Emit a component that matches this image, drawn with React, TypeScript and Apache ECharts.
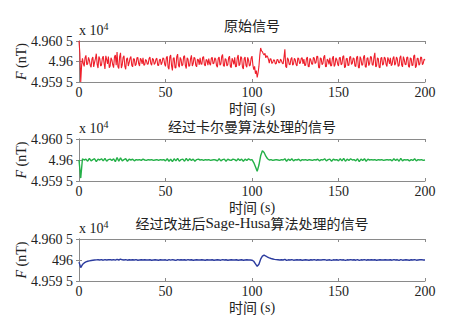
import React, { useEffect, useRef } from "react";
import * as echarts from "echarts";

// Offsets from the base value (nT)
const BASE = 49600;
const RAW_STEP = 0.5; // s between samples of the raw signal
const FILTER_STEP = 1; // s between samples of the filtered signals

const titles = [
  [{ t: "原始信号", latin: false }],
  [{ t: "经过卡尔曼算法处理的信号", latin: false }],
  [
    { t: "经过改进后", latin: false },
    { t: "Sage-Husa", latin: true },
    { t: "算法处理的信号", latin: false },
  ],
];
const xTicks = [0, 50, 100, 150, 200];
const yTickLabels = [
  { top: "4.960 5", mid: "4.96", bottom: "4.959 5" },
  { top: "4.960 5", mid: "4.96", bottom: "4.959 5" },
  { top: "4.960 5", mid: "496", bottom: "4.959 5" },
];

const rawSignal = [
  5.0, 2.0, -5.0, -1.0, 0.8, -0.5, -1.2, 0.9, 1.5, -0.8, -0.6, 1.0, 0.3, -0.9, -1.4, 0.6, 1.1, -1.3, -0.2, 0.7,
  1.9, -0.7, -1.6, 1.2, 0.7, -1.1, -0.9, 0.8, 1.3, -0.4, -1.8, 1.4, 0.5, -0.6, 1.2, -1.5, -1.1, 0.9, 0.4, -0.8,
  -1.5, 1.1, 1.6, -0.9, 2.3, -1.3, -1.7, 1.2, 2.1, -1.6, -0.8, 1.0, 1.4, -1.2, -1.9, 0.6, 0.9, -1.1, -0.3, 0.8,
  1.2, -0.9, -1.3, 0.7, 0.6, -1.0, -0.7, 0.9, 1.0, -0.5, -1.1, 0.8, 0.4, -0.6, 0.9, -0.9, -0.8, 0.5, 0.2, -0.7,
  -0.6, 0.7, 1.1, -0.5, -0.9, 0.8, 0.5, -0.7, -0.4, 0.6, 0.8, -0.9, -1.0, 0.4, 0.6, -0.8, -0.3, 0.9, 0.7, -0.6,
  -1.2, 0.9, 1.3, -1.4, -1.9, 1.1, 1.6, -1.0, -2.2, 0.8, 0.9, -1.5, -1.6, 1.2, 1.8, -0.9, -1.4, 1.0, 0.5, -1.1,
  -0.8, 1.2, 1.4, -1.0, -1.7, 0.9, 0.6, -1.2, -1.0, 0.7, 1.5, -1.1, -0.5, 1.0, 0.8, -0.9, -1.3, 0.6, 0.4, -0.8,
  0.9, -0.6, -0.7, 1.0, 1.2, -0.8, -1.1, 0.5, 0.3, -0.9, 0.7, -0.5, -0.9, 0.8, 1.0, -0.6, -0.4, 0.9, 0.6, -1.0,
  -1.4, 0.8, 1.1, -0.9, -0.6, 1.2, 1.7, -1.0, -1.2, 0.7, 0.5, -1.1, -0.8, 0.9, 1.3, -1.2, -1.5, 0.8, 0.2, -0.7,
  1.0, -1.3, -1.2, 0.9, 1.6, -1.0, -0.7, 1.2, 0.9, -1.4, -1.8, 0.7, 1.1, -0.9, -1.4, 1.0, 0.4, -1.1, -0.9, 0.8,
  1.3, -0.8, -2.0, -1.2, -3.0, -2.2, -3.9, -2.8, -1.2, 1.5, 3.3, 2.6, 2.4, 1.9, 1.6, 2.0, 0.9, 1.4, 1.2, 0.5,
  -0.4, 0.7, 0.6, -0.5, -0.2, 0.4, 0.3, -0.6, -0.5, 0.5, 0.4, -0.3, -0.3, 0.6, 0.2, -0.4, -0.6, 1.0, 3.0, -1.2,
  -1.5, 0.9, 0.5, -0.7, -0.8, 0.6, 1.0, -0.9, -0.6, 0.8, 0.4, -0.7, -1.1, 0.9, 0.7, -0.5, -0.3, 0.8, 0.9, -0.6,
  0.6, -1.0, -0.9, 0.7, 1.1, -1.2, -1.3, 0.8, 0.4, -0.6, -0.7, 1.0, 0.8, -0.5, -0.2, 1.3, 1.2, -1.4, -1.6, 0.9,
  0.7, -0.8, -0.5, 1.1, 1.5, -1.3, -1.2, 0.6, 0.3, -0.7, 0.9, -1.1, -1.0, 0.8, 1.3, -1.2, -0.8, 0.9, 0.5, -0.6,
  -1.1, 0.9, 1.0, -0.8, -0.6, 1.2, 1.4, -1.5, -1.3, 0.7, 0.8, -1.0, -0.9, 1.1, 1.2, -0.7, -0.4, 0.9, 0.7, -1.1,
  -1.2, 1.0, 1.3, -1.4, -1.6, 1.2, 0.6, -0.9, -0.8, 1.1, 1.5, -1.3, -1.4, 0.8, 0.9, -1.0, -0.5, 1.2, 1.1, -0.8,
  -0.9, 1.0, 2.1, -1.3, -1.1, 0.9, 0.7, -1.4, -1.5, 0.8, 1.0, -0.9, -0.6, 1.1, 0.8, -0.7, -1.2, 1.0, 0.4, -0.6,
  0.9, -1.0, -0.7, 0.8, 1.2, -0.9, -0.5, 1.1, 0.6, -1.2, -1.0, 0.9, 1.4, -0.8, -1.3, 1.2, 0.5, -0.7, -0.8, 1.0,
  1.1, -1.2, -1.4, 0.9, 0.7, -1.0, -0.9, 1.3, 1.6, -1.5, -1.1, 0.8, 0.8, -0.9, -0.6, 1.1, 1.0, -0.8, -0.4, 0.6,
  0.3,
];

const kalmanSignal = [
  0.0, -4.3, 0.3, 0.0, 0.2, -0.3, 0.4, -0.2, 0.1, 0.3,
  -0.4, 0.2, 0.0, 0.3, -0.2, 0.4, -0.3, 0.1, 0.2, -0.1,
  0.3, -0.4, 0.6, -0.3, 0.5, -0.2, 0.1, 0.3, -0.3, 0.2,
  0.0, 0.2, -0.2, 0.1, 0.0, 0.1, -0.1, 0.2, 0.0, -0.1,
  0.1, 0.0, 0.1, -0.1, 0.0, 0.1, -0.1, 0.1, 0.0, 0.1,
  -0.2, 0.3, -0.3, 0.2, -0.4, 0.3, -0.2, 0.4, -0.3, 0.1,
  0.2, -0.3, 0.4, -0.2, 0.3, -0.1, 0.2, -0.3, 0.1, 0.2,
  0.0, 0.1, -0.1, 0.1, 0.0, 0.1, -0.1, 0.0, 0.1, 0.0,
  -0.2, 0.3, -0.2, 0.1, 0.2, -0.3, 0.2, 0.0, -0.1, 0.2,
  0.1, -0.2, 0.3, -0.1, 0.2, -0.3, 0.2, -0.1, 0.3, 0.0,
  0.1, -0.6, -1.6, -2.7, -1.2, 1.0, 2.2, 1.8, 0.9, 0.3,
  0.0, 0.1, -0.1, 0.0, 0.1, 0.0, -0.1, 0.1, 0.0, 0.3,
  -0.3, 0.2, -0.1, 0.3, -0.2, 0.1, 0.0, 0.2, -0.2, 0.1,
  0.0, 0.1, -0.1, 0.1, 0.0, -0.1, 0.1, 0.0, 0.2, -0.2,
  0.1, 0.0, 0.3, -0.2, 0.1, 0.2, -0.3, 0.2, 0.0, 0.1,
  -0.2, 0.3, -0.2, 0.4, -0.3, 0.2, -0.1, 0.3, 0.0, 0.1,
  -0.2, 0.3, -0.4, 0.2, -0.1, 0.3, -0.3, 0.2, 0.0, 0.1,
  0.0, 0.1, -0.1, 0.1, 0.0, 0.1, -0.1, 0.0, 0.1, 0.0,
  0.1, -0.2, 0.3, -0.1, 0.2, -0.3, 0.4, -0.2, 0.1, 0.0,
  0.1, -0.2, 0.1, -0.1, 0.3, -0.2, 0.1, 0.0, 0.1, -0.1,
  0.0,
];

const sageHusaSignal = [
  -0.5, -1.8, -1.1, -0.7, -0.45, -0.3, -0.2, -0.12, -0.06, 0.0,
  0.02, 0.05, 0.0, 0.08, -0.05, 0.1, 0.0, 0.05, 0.08, 0.0,
  0.1, -0.05, 0.15, 0.0, 0.2, 0.05, 0.0, 0.1, -0.05, 0.05,
  0.0, 0.05, 0.0, 0.08, -0.05, 0.0, 0.05, 0.0, 0.05, 0.0,
  0.0, 0.05, -0.05, 0.0, 0.05, 0.0, -0.05, 0.05, 0.0, 0.0,
  0.05, -0.1, 0.1, -0.05, 0.1, 0.0, -0.1, 0.1, 0.0, 0.05,
  0.0, 0.05, -0.05, 0.1, 0.0, 0.05, -0.05, 0.0, 0.05, 0.0,
  0.0, 0.05, 0.0, -0.05, 0.05, 0.0, 0.0, 0.05, -0.05, 0.0,
  0.05, 0.0, -0.05, 0.1, 0.0, 0.05, -0.05, 0.0, 0.05, 0.0,
  0.0, 0.05, -0.05, 0.0, 0.05, -0.05, 0.0, 0.05, 0.0, 0.0,
  -0.05, -0.3, -0.9, -1.5, -1.0, 0.2, 0.9, 1.15, 0.95, 0.7,
  0.5, 0.35, 0.25, 0.15, 0.1, 0.05, 0.0, 0.05, 0.0, 0.15,
  -0.1, 0.05, 0.0, 0.1, -0.05, 0.0, 0.05, 0.0, 0.05, -0.05,
  0.0, 0.05, 0.0, -0.05, 0.05, 0.0, 0.1, -0.05, 0.05, 0.0,
  0.0, 0.05, 0.1, -0.05, 0.0, 0.05, -0.1, 0.05, 0.0, 0.05,
  -0.05, 0.1, 0.0, 0.05, -0.1, 0.05, 0.0, 0.1, 0.0, 0.05,
  -0.05, 0.1, -0.1, 0.05, 0.0, 0.1, -0.05, 0.05, 0.0, 0.05,
  0.0, 0.05, -0.05, 0.0, 0.05, 0.0, 0.0, 0.05, 0.0, 0.0,
  0.05, -0.05, 0.1, 0.0, 0.05, -0.1, 0.1, -0.05, 0.0, 0.05,
  0.0, -0.05, 0.05, 0.0, 0.1, -0.05, 0.0, 0.05, 0.1, 0.0,
  0.0,
];

const seriesList = [rawSignal, kalmanSignal, sageHusaSignal];
const steps = [RAW_STEP, FILTER_STEP, FILTER_STEP];
const colors = ["#ee1f2b", "#24b048", "#2b3b9e"];
const lineWidths = [1.1, 1.4, 1.4];

const grids = [
  { left: 79, top: 41, width: 346, height: 41 },
  { left: 79, top: 139, width: 346, height: 42 },
  { left: 79, top: 239, width: 346, height: 42 },
];
const titleOffsets = [16, 13, 16];

const serif = "Times New Roman";
const cjk = "Noto Sans CJK SC";
const axisGray = "#8a8a8a";
const textColor = "#222";

export default function App() {
  const ref = useRef<HTMLDivElement>(null);
  useEffect(() => {
    if (!ref.current) return;
    const chart = echarts.init(ref.current, null, { renderer: "svg" });

    const xAxes: any[] = [];
    const yAxes: any[] = [];
    const series: any[] = [];
    const graphics: any[] = [];

    grids.forEach((g, i) => {
      const boxAxis = {
        axisLine: { show: true, lineStyle: { color: axisGray, width: 1 } },
        axisTick: { show: true, inside: true, length: 3, lineStyle: { color: axisGray } },
        splitLine: { show: false },
      };
      xAxes.push({
        type: "value",
        gridIndex: i,
        min: 0,
        max: 200,
        interval: 50,
        position: "bottom",
        ...boxAxis,
        axisLabel: {
          color: textColor,
          fontFamily: serif,
          fontSize: 14,
          lineHeight: 13,
          margin: 4,
          formatter: (v: number) => (xTicks.includes(v) ? String(v) : ""),
        },
      });
      xAxes.push({
        type: "value",
        gridIndex: i,
        min: 0,
        max: 200,
        interval: 50,
        position: "top",
        ...boxAxis,
        axisLabel: { show: false },
      });
      const labels = yTickLabels[i];
      yAxes.push({
        type: "value",
        gridIndex: i,
        min: BASE - 5,
        max: BASE + 5,
        interval: 5,
        position: "left",
        ...boxAxis,
        axisLabel: {
          color: textColor,
          fontFamily: serif,
          fontSize: 14,
          margin: 6,
          formatter: (v: number) =>
            v === BASE + 5 ? labels.top : v === BASE ? labels.mid : v === BASE - 5 ? labels.bottom : "",
        },
      });
      yAxes.push({
        type: "value",
        gridIndex: i,
        min: BASE - 5,
        max: BASE + 5,
        interval: 5,
        position: "right",
        ...boxAxis,
        axisLabel: { show: false },
      });
      series.push({
        type: "line",
        xAxisIndex: i * 2,
        yAxisIndex: i * 2,
        data: seriesList[i].map((v, k) => [k * steps[i], BASE + v]),
        showSymbol: false,
        symbol: "none",
        lineStyle: { color: colors[i], width: lineWidths[i] },
        z: 1,
      });

      const cx = g.left + g.width / 2;
      const parts = titles[i];
      graphics.push({
        type: "text",
        x: cx,
        y: g.top - titleOffsets[i],
        style: {
          text: parts.map((p) => `{${p.latin ? "l" : "c"}|${p.t}}`).join(""),
          textAlign: "center",
          textVerticalAlign: "middle",
          rich: {
            c: { fontFamily: cjk, fontSize: 14, lineHeight: 14, fill: textColor },
            l: { fontFamily: serif, fontSize: 15, lineHeight: 14, fill: textColor },
          },
        },
      });
      graphics.push({
        type: "text",
        x: g.left,
        y: g.top - 2,
        style: {
          text: "{a|x 10}{b|4}",
          textVerticalAlign: "bottom",
          rich: {
            a: { fontFamily: serif, fontSize: 14, fill: textColor },
            b: { fontFamily: serif, fontSize: 10, fill: textColor, verticalAlign: "top", padding: [0, 0, 8, 0] },
          },
        },
      });
      graphics.push({
        type: "text",
        x: cx,
        y: g.top + g.height + 26,
        style: {
          text: "{c|时间} {d|(s)}",
          textAlign: "center",
          textVerticalAlign: "middle",
          rich: {
            c: { fontFamily: cjk, fontSize: 14, lineHeight: 13, fill: textColor },
            d: { fontFamily: serif, fontSize: 14, lineHeight: 13, fill: textColor },
          },
        },
      });
      graphics.push({
        type: "text",
        x: 21,
        y: g.top + g.height / 2,
        rotation: Math.PI / 2,
        style: {
          text: "{e|F} {f|(nT)}",
          textAlign: "center",
          textVerticalAlign: "middle",
          rich: {
            e: { fontFamily: serif, fontSize: 14, fontStyle: "italic", fill: textColor },
            f: { fontFamily: serif, fontSize: 14, fill: textColor },
          },
        },
      });
    });

    chart.setOption({
      animation: false,
      backgroundColor: "#ffffff",
      grid: grids.map((g) => ({ ...g, containLabel: false })),
      xAxis: xAxes,
      yAxis: yAxes,
      series,
      graphic: graphics,
    });
    return () => chart.dispose();
  }, []);

  return (
    <div
      ref={ref}
      style={{ position: "fixed", left: 0, top: 0, width: 460, height: 328 }}
    />
  );
}
